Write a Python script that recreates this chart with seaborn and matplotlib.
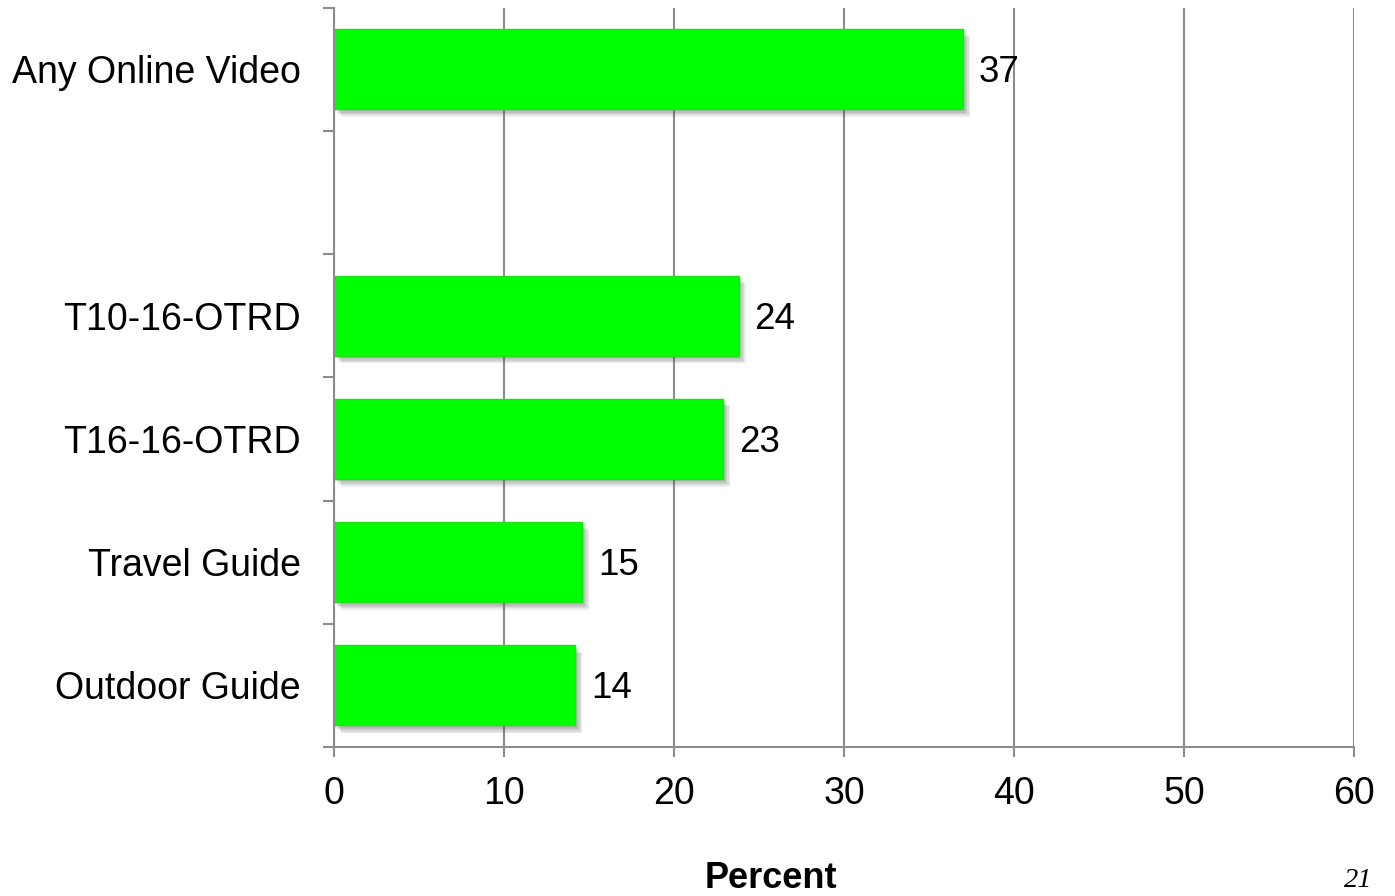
import matplotlib
matplotlib.use("Agg")
import matplotlib.pyplot as plt
import matplotlib.patheffects as pe
import seaborn as sns
import pandas as pd
import numpy as np

# Share of respondents (percent) per video type
categories = ["Any Online Video", "T10-16-OTRD", "T16-16-OTRD", "Travel Guide", "Outdoor Guide"]
values = [37.0, 23.8, 22.9, 14.6, 14.2]
# display order on the y axis; the blank slot separates the overall figure from the rest
order = ["Any Online Video", " ", "T10-16-OTRD", "T16-16-OTRD", "Travel Guide", "Outdoor Guide"]
x_ticks = [0, 10, 20, 30, 40, 50, 60]
x_label = "Percent"
page_number = "21"

sns.set_theme(style="white")
plt.rcParams["font.family"] = ["Liberation Sans", "DejaVu Sans"]
plt.rcParams["text.color"] = "black"
plt.rcParams["xtick.labelcolor"] = "black"
plt.rcParams["ytick.labelcolor"] = "black"

df = pd.DataFrame({"category": categories, "percent": values})

fig = plt.figure(figsize=(13.95, 8.96), dpi=100)
ax = fig.add_axes([0.2394, 0.1663, 0.9706 - 0.2394, 0.9916 - 0.1663])

grey = "#8c8c8c"

sns.barplot(data=df, x="percent", y="category", order=order, color="#00ff00",
            saturation=1, width=0.65, orient="h", ax=ax)

# soft drop shadow built from a few faint offset copies
shadow = [pe.SimplePatchShadow(offset=(dx, -dy), shadow_rgbFace="#555555", alpha=0.11)
          for dx, dy in [(1, 1.5), (2, 2.5), (3, 3.5), (4, 4.5), (5, 5.5)]]
for bar in ax.patches:
    bar.set_edgecolor("#22dd22")
    bar.set_linewidth(1.0)
    bar.set_path_effects(shadow + [pe.Normal()])

for cont in ax.containers:
    labels = ax.bar_label(cont, fmt="{:.0f}", padding=11.5, fontsize=26.5, color="black")
    for lab in labels:
        lab.xyann = (11.5, -2.5)

ax.set_xlim(0, 60)
ax.set_ylim(len(order) - 0.5, -0.5)
ax.set_xticks(x_ticks)
ax.set_xticklabels([str(t) for t in x_ticks])
ax.set_yticks(range(len(order)))
ax.set_yticklabels(order)
ax.set_yticks(np.arange(-0.5, len(order)), minor=True)

ax.set_xlabel("")
ax.set_ylabel("")

ax.set_axisbelow(True)
ax.grid(axis="x", color=grey, linewidth=1.5)
ax.grid(axis="y", visible=False)

for side in ("top", "right"):
    ax.spines[side].set_visible(False)
for side in ("left", "bottom"):
    ax.spines[side].set_color(grey)
    ax.spines[side].set_linewidth(1.5)

ax.tick_params(axis="x", which="major", direction="out", length=7.2, width=1.5,
               color=grey, labelsize=27, pad=14, bottom=True)
ax.tick_params(axis="y", which="major", length=0, labelsize=27, pad=24, left=False)
ax.tick_params(axis="y", which="minor", direction="out", length=8, width=1.5,
               color=grey, left=True)

fig.text(0.553, 0.0089, x_label, ha="center", va="baseline",
         fontsize=26, fontweight="bold")
fig.text(0.984, 0.0100, page_number, ha="right", va="baseline",
         fontsize=20.5, fontstyle="italic", family=["Liberation Serif", "DejaVu Serif"])

fig.savefig("out.png", dpi=100)
